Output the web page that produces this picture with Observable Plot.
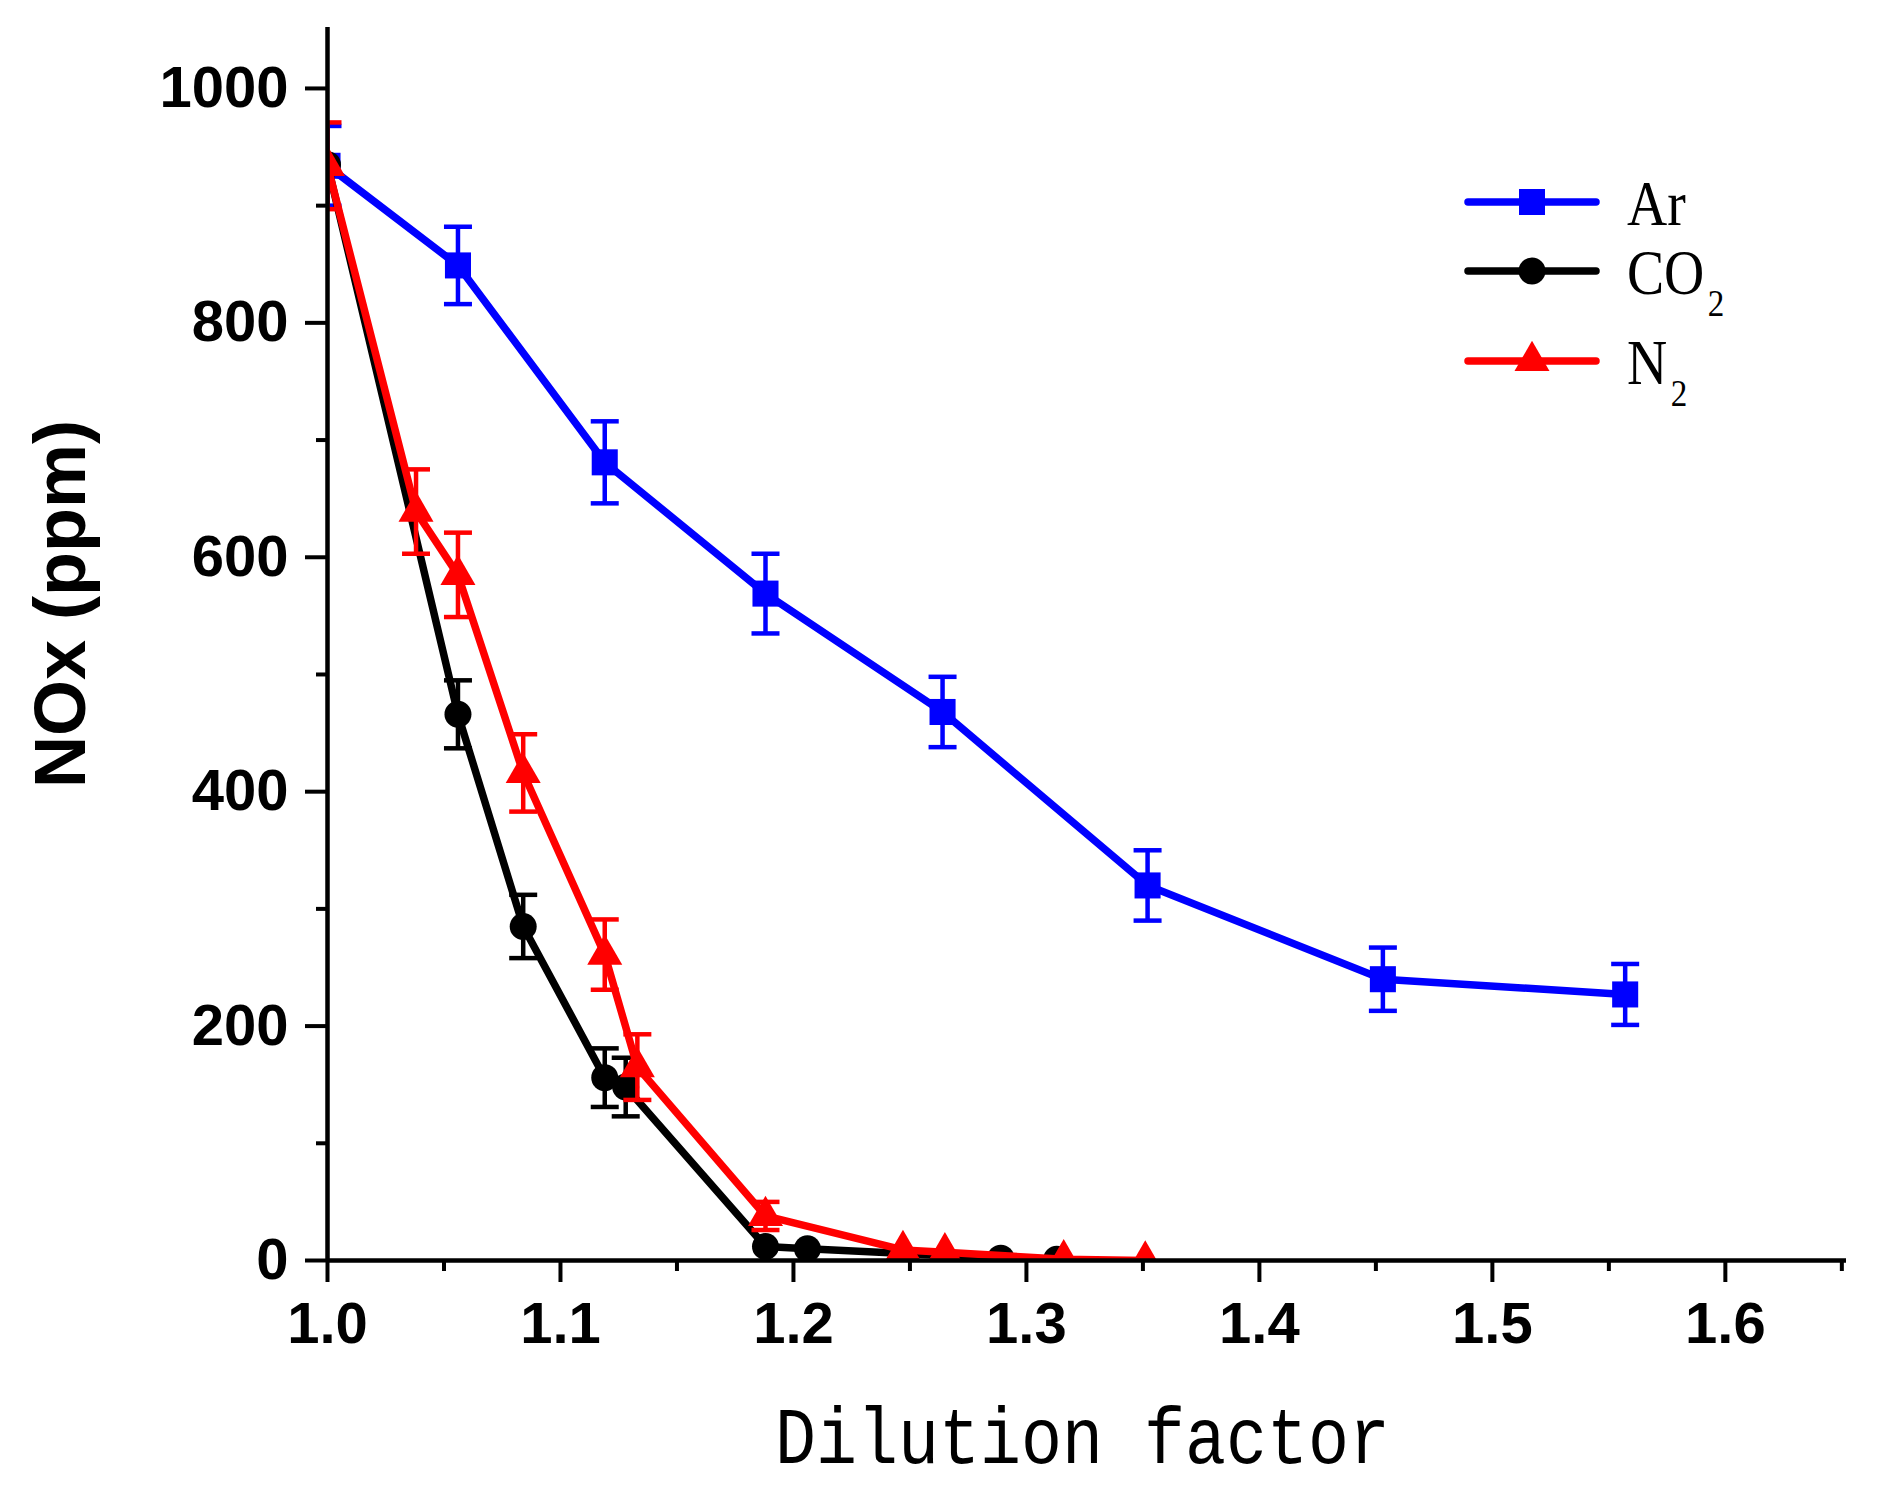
<!DOCTYPE html>
<html><head><meta charset="utf-8">
<script src="https://cdn.jsdelivr.net/npm/d3@7"></script>
<script src="https://cdn.jsdelivr.net/npm/@observablehq/plot@0.6"></script>
<style>
html,body{margin:0;padding:0;background:#fff;}
#wrap{position:relative;width:1879px;height:1503px;overflow:hidden;background:#fff;}
#wrap > svg{position:absolute;left:0;top:0;}
</style></head><body><div id="wrap"></div>
<script>
// ---- data ----
const arX   = [1.0, 1.056, 1.119, 1.188, 1.264, 1.352, 1.453, 1.557];
const arY   = [934, 849, 681, 569, 468, 320, 240, 227];
const arErr = [34, 33, 35, 34, 30, 30, 27, 26];

const co2X   = [1.0, 1.056, 1.084, 1.119, 1.128, 1.188, 1.206, 1.289, 1.313];
const co2Y   = [935, 466, 285, 156, 148, 12, 10, 2, 1];
const co2Err = [0, 29, 27, 25, 25, 0, 0, 0, 0];

const n2X   = [1.0, 1.038, 1.056, 1.084, 1.119, 1.133, 1.188, 1.247, 1.265, 1.316, 1.351];
const n2Y   = [934, 639, 585, 416, 261, 165, 38, 9, 7, 1, 0];
const n2Err = [37, 36, 36, 33, 30, 28, 12, 0, 0, 0, 0];

const seriesNames = ["Ar", "CO2", "N2"];
const xTicks = [1.0, 1.1, 1.2, 1.3, 1.4, 1.5, 1.6];
const xMinorTicks = [1.05, 1.15, 1.25, 1.35, 1.45, 1.55, 1.65];
const yTicks = [0, 200, 400, 600, 800, 1000];
const yMinorTicks = [100, 300, 500, 700, 900];
const xLabel = "Dilution factor";
const yLabel = "NOx (ppm)";

// ---- build ----
const series = [
  {name: "Ar",  sub: "",  color: "#0000ff", symbol: "square", r: 14.7, xs: arX,  ys: arY,  es: arErr},
  {name: "CO",  sub: "2", color: "#000000", symbol: "circle", r: 13.5, xs: co2X, ys: co2Y, es: co2Err},
  {name: "N",   sub: "2", color: "#ff0000", symbol: "triangle", r: 13.0, xs: n2X, ys: n2Y, es: n2Err}
];

const capSymbol = {draw(ctx, size) { const w = Math.sqrt(size / Math.PI); ctx.moveTo(-w, 0); ctx.lineTo(w, 0); }};

const marks = [];
for (const s of series) {
  const rows = s.xs.map((x, i) => ({x, y: s.ys[i], e: s.es[i]}));
  const rowsE = rows.filter(d => d.e > 0);
  marks.push(
    Plot.ruleX(rowsE, {x: "x", y1: d => d.y - d.e, y2: d => d.y + d.e, stroke: s.color, strokeWidth: 4.5, clip: true}),
    Plot.dot(rowsE, {x: "x", y: d => d.y - d.e, symbol: capSymbol, r: 14, stroke: s.color, strokeWidth: 4.5, fill: "none", clip: true}),
    Plot.dot(rowsE, {x: "x", y: d => d.y + d.e, symbol: capSymbol, r: 14, stroke: s.color, strokeWidth: 4.5, fill: "none", clip: true}),
    Plot.line(rows, {x: "x", y: "y", stroke: s.color, strokeWidth: 7.5, strokeLinejoin: "round", clip: true}),
    Plot.dot(rows, {x: "x", y: "y", symbol: s.symbol, r: s.r, fill: s.color, stroke: "none", clip: true})
  );
}

const chart = Plot.plot({
  width: 1879,
  height: 1503,
  marginLeft: 327,
  marginRight: 33,
  marginTop: 27,
  marginBottom: 243,
  x: {domain: [1.0, 1.652], label: null},
  y: {domain: [0, 1052], label: null},
  style: {fontFamily: "'Liberation Sans', Arial, sans-serif", fontSize: "58px", fontWeight: "bold", color: "#000", background: "transparent", overflow: "visible"},
  marks: [
    Plot.axisX({ticks: xTicks, tickSize: 22, tickPadding: 19, strokeWidth: 4, tickFormat: d3.format(".1f"), label: null}),
    Plot.axisX({ticks: xMinorTicks, tickSize: 11, strokeWidth: 4, tickFormat: () => "", label: null}),
    Plot.axisY({ticks: yTicks, tickSize: 22, tickPadding: 17, strokeWidth: 4, tickFormat: d3.format("d"), label: null}),
    Plot.axisY({ticks: yMinorTicks, tickSize: 11, strokeWidth: 4, tickFormat: () => "", label: null}),
    ...marks,
    Plot.ruleX([1.0], {stroke: "#000", strokeWidth: 4.5}),
    Plot.ruleY([0], {stroke: "#000", strokeWidth: 4.5})
  ]
});
document.getElementById("wrap").appendChild(chart);

// ---- overlay: labels & legend ----
const ov = d3.select("#wrap").append("svg").attr("width", 1879).attr("height", 1503);

// y label
ov.append("text")
  .attr("transform", "translate(85,604) rotate(-90)")
  .attr("text-anchor", "middle")
  .attr("font-family", "'Liberation Sans', Arial, sans-serif")
  .attr("font-weight", "bold")
  .attr("font-size", 72)
  .text(yLabel);

// x label: monospaced cells
const pitch = 41, x0 = 775, sx = 0.854;
const chars = Array.from(xLabel);
ov.append("text")
  .attr("transform", `scale(${sx},1)`)
  .attr("x", chars.map((c, i) => (x0 + pitch * (i + 0.5)) / sx).join(" "))
  .attr("y", 1463)
  .attr("text-anchor", "middle")
  .attr("font-family", "'Liberation Mono', 'Courier New', monospace")
  .attr("font-size", 80)
  .text(xLabel);

// legend
const legRows = [202, 271, 361];
const symType = {square: d3.symbolSquare, circle: d3.symbolCircle, triangle: d3.symbolTriangle};
const lsx = 0.87;
series.forEach((s, i) => {
  const y = legRows[i];
  ov.append("line").attr("x1", 1468).attr("x2", 1596).attr("y1", y).attr("y2", y)
    .attr("stroke", s.color).attr("stroke-width", 7.5).attr("stroke-linecap", "round");
  ov.append("path").attr("transform", `translate(1532,${y})`)
    .attr("d", d3.symbol().type(symType[s.symbol]).size(Math.PI * s.r * s.r)())
    .attr("fill", s.color);
  const t = ov.append("text").attr("transform", `scale(${lsx},1)`)
    .attr("x", 1627 / lsx).attr("y", y + 23)
    .attr("font-family", "'Liberation Serif', 'Times New Roman', serif")
    .attr("font-size", 64).text(s.name);
  if (s.sub) t.append("tspan").attr("font-size", 38).attr("dx", 4).attr("dy", 22).text(s.sub);
});
</script></body></html>
